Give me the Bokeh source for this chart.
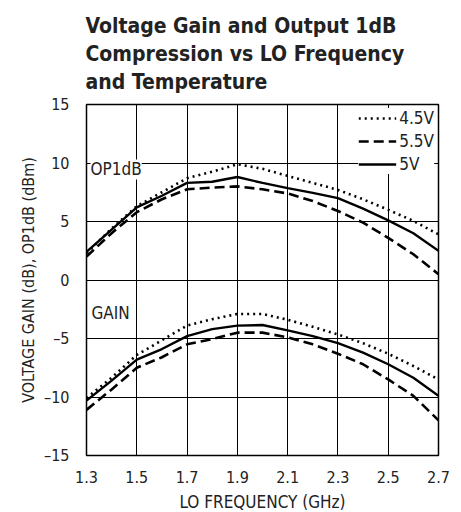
from bokeh.plotting import figure
from bokeh.models import Range1d, Legend, LegendItem, Label, FixedTicker, Title
from bokeh.embed import file_html
from bokeh.resources import INLINE

FONT = "'DejaVu Sans Condensed', 'Liberation Sans Narrow', 'Liberation Sans', sans-serif"

freq = [1.3, 1.4, 1.5, 1.6, 1.7, 1.8, 1.9, 2.0, 2.1, 2.2, 2.3, 2.4, 2.5, 2.6, 2.7]

op1db_45 = [2.3, 4.4, 6.3, 7.5, 8.7, 9.25, 9.9, 9.5, 8.9, 8.3, 7.7, 6.9, 6.0, 5.05, 3.9]
op1db_55 = [2.0, 4.0, 5.8, 6.9, 7.75, 7.9, 8.0, 7.75, 7.4, 6.75, 5.9, 4.9, 3.6, 2.2, 0.5]
op1db_5 = [2.4, 4.3, 6.2, 7.2, 8.3, 8.4, 8.8, 8.3, 7.85, 7.45, 7.0, 6.1, 5.1, 4.0, 2.5]

gain_45 = [-10.1, -8.35, -6.4, -5.15, -3.9, -3.35, -2.9, -2.9, -3.4, -4.0, -4.65, -5.4, -6.3, -7.35, -8.5]
gain_55 = [-11.1, -9.35, -7.5, -6.6, -5.5, -5.05, -4.5, -4.5, -4.9, -5.5, -6.3, -7.2, -8.5, -9.9, -12.0]
gain_5 = [-10.3, -8.6, -6.8, -5.9, -4.8, -4.2, -3.9, -3.85, -4.3, -4.8, -5.4, -6.2, -7.2, -8.35, -9.9]

x_ticks = [1.3, 1.5, 1.7, 1.9, 2.1, 2.3, 2.5, 2.7]
y_ticks = [-15, -10, -5, 0, 5, 10, 15]
y_tick_labels = {-15: "\u201315", -10: "\u201310", -5: "\u20135", 0: "0", 5: "5", 10: "10", 15: "15"}

p = figure(frame_width=352, frame_height=351, output_backend="svg", toolbar_location=None,
           x_range=Range1d(1.3, 2.7), y_range=Range1d(-15, 15),
           min_border_left=86, min_border_right=22, min_border_top=104, min_border_bottom=56)

title = Title(text="Voltage Gain and Output 1dB\nCompression vs LO Frequency\nand Temperature",
              align="left", text_font=FONT, text_font_size="21px", text_font_style="bold",
              text_color="#222222", offset=-1, standoff=21, text_line_height=1.16)
p.add_layout(title, "above")

p.outline_line_color = "black"
p.outline_line_width = 1.5
p.background_fill_color = "white"
p.border_fill_color = "white"

for ax in (p.xaxis, p.yaxis):
    ax.axis_line_color = None
    ax.major_tick_line_color = None
    ax.minor_tick_line_color = None
    ax.major_label_text_font = FONT
    ax.major_label_text_font_size = "16px"
    ax.major_label_text_color = "#222222"
    ax.axis_label_text_font = FONT
    ax.axis_label_text_font_style = "normal"
    ax.axis_label_text_color = "#222222"

p.xaxis.axis_label_text_font_size = "17px"
p.yaxis.axis_label_text_font_size = "16px"
p.xaxis.ticker = FixedTicker(ticks=x_ticks)
p.yaxis.ticker = FixedTicker(ticks=y_ticks)
p.yaxis.major_label_overrides = y_tick_labels
p.xaxis.axis_label = "LO FREQUENCY (GHz)"
p.yaxis.axis_label = "VOLTAGE GAIN (dB), OP1dB (dBm)"
p.xaxis.major_label_standoff = 9
p.yaxis.major_label_standoff = 11
p.xaxis.axis_label_standoff = 6
p.yaxis.axis_label_standoff = 3

p.xgrid.grid_line_color = "black"
p.ygrid.grid_line_color = "black"
p.xgrid.grid_line_width = 1
p.ygrid.grid_line_width = 1

dot = dict(line_color="black", line_width=2.6, line_dash="2 4")
dash = dict(line_color="black", line_width=2.6, line_dash="10 5")
solid = dict(line_color="black", line_width=2.4)

r45a = p.line(freq, op1db_45, **dot)
r55a = p.line(freq, op1db_55, **dash)
r5a = p.line(freq, op1db_5, **solid)
r45b = p.line(freq, gain_45, **dot)
r55b = p.line(freq, gain_55, **dash)
r5b = p.line(freq, gain_5, **solid)

legend = Legend(items=[LegendItem(label="4.5V", renderers=[r45a]),
                       LegendItem(label="5.5V", renderers=[r55a]),
                       LegendItem(label="5V", renderers=[r5a])],
                location="top_right", border_line_color=None,
                background_fill_color="white", background_fill_alpha=1.0,
                label_text_font=FONT, label_text_font_size="17px", label_text_color="#222222",
                glyph_width=38, glyph_height=20, label_height=20, spacing=3,
                label_standoff=3, padding=2, margin=4)
p.add_layout(legend)

p.add_layout(Label(x=1.3, y=9.45, x_offset=4, text="OP1dB", text_font=FONT,
                   text_font_size="17px", text_color="#222222", text_baseline="middle",
                   background_fill_color="white", background_fill_alpha=1.0))
p.add_layout(Label(x=1.3, y=-2.85, x_offset=5, text="GAIN", text_font=FONT,
                   text_font_size="17px", text_color="#222222", text_baseline="middle"))

open("out.html", "w").write(file_html(p, INLINE))
